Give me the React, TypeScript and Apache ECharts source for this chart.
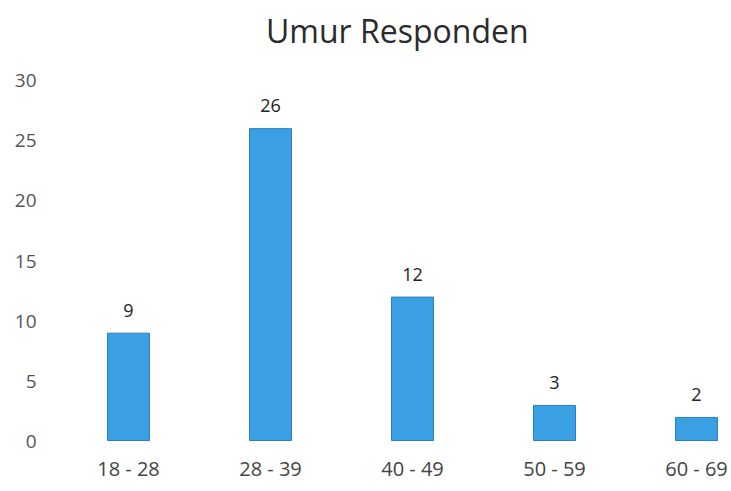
import React, { useEffect, useRef } from "react";
import * as echarts from "echarts";

const categories = ["18 - 28", "28 - 39", "40 - 49", "50 - 59", "60 - 69"];
const values = [9, 26, 12, 3, 2];
const titleText = "Umur Responden";

const FONT = "'Open Sans', 'Noto Sans', sans-serif";

export default function App() {
  const ref = useRef<HTMLDivElement>(null);
  useEffect(() => {
    if (!ref.current) return;
    const chart = echarts.init(ref.current, null, { renderer: "svg" });
    chart.setOption({
      animation: false,
      backgroundColor: "#ffffff",
      title: {
        text: titleText,
        left: 261,
        top: 9,
        textStyle: { fontFamily: FONT, fontSize: 32, fontWeight: "normal", color: "#2b2b2b" },
      },
      grid: { left: 57.5, width: 710, top: 80, bottom: 50, containLabel: false },
      xAxis: {
        type: "category",
        data: categories,
        axisLine: { show: false },
        axisTick: { show: false },
        axisLabel: { fontFamily: FONT, fontSize: 20, color: "#444", margin: 17 },
      },
      yAxis: {
        type: "value",
        min: 0,
        max: 30,
        interval: 5,
        splitLine: { show: false },
        axisLine: { show: false },
        axisTick: { show: false },
        axisLabel: { fontFamily: FONT, fontSize: 19, color: "#555", margin: 21 },
      },
      series: [
        {
          type: "bar",
          data: values,
          barWidth: 43,
          itemStyle: { color: "#3aa0e3", borderColor: "#2a7fbf", borderWidth: 1 },
          label: {
            show: true,
            position: "top",
            distance: 14,
            fontFamily: FONT,
            fontSize: 18,
            color: "#222",
          },
        },
      ],
    });
    return () => chart.dispose();
  }, []);
  return (
    <div
      style={{
        position: "fixed",
        left: 0,
        top: 0,
        width: 731,
        height: 491,
        overflow: "hidden",
        background: "#fff",
      }}
    >
      <div ref={ref} style={{ width: 800, height: 491 }} />
    </div>
  );
}
